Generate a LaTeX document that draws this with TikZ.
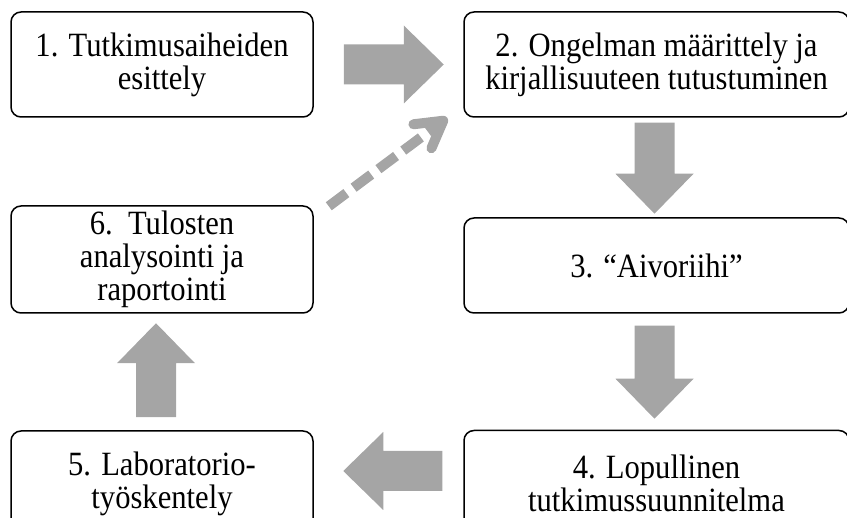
\documentclass[tikz,border=0pt]{standalone}
\usepackage{fontspec}
\setmainfont[FakeStretch=0.9]{Liberation Serif}
\usetikzlibrary{arrows.meta,calc}
\definecolor{arrowgray}{HTML}{A5A5A5}
\tikzset{
  stepbox/.style={draw, line width=1.5pt, rounded corners=10pt, align=center,
    font=\fontsize{34}{33}\selectfont, inner sep=0pt},
  pics/blockarrow/.style={code={
    \fill[arrowgray] (0,-20) -- (#1-40,-20) -- (#1-40,-39) -- (#1,0)
      -- (#1-40,39) -- (#1-40,20) -- (0,20) -- cycle;}},
  dashconn/.style={arrowgray, line width=10pt, dash pattern=on 22pt off 9pt,
    -{Straight Barb[length=26pt,width=30pt,line cap=round,line join=round]}}
}

\begin{document}
\begin{tikzpicture}[x=1pt,y=-1pt]
  \useasboundingbox (0,0) rectangle (847,518);
  \node[stepbox, minimum width=302pt, minimum height=105pt] (topic) at (162,64.5)
    {1. Tutkimusaiheiden\\esittely};
  \node[stepbox, minimum width=385pt, minimum height=105pt] (problem) at (656.5,64.5)
    {2. Ongelman määrittely ja\\kirjallisuuteen tutustuminen};
  \node[stepbox, minimum width=385pt, minimum height=95pt] (brainstorm) at (656.5,265.5)
    {3. “Aivoriihi”};
  \node[stepbox, minimum width=385pt, minimum height=105pt] (plan) at (656.5,483)
    {4. Lopullinen\\tutkimussuunnitelma};
  \node[stepbox, minimum width=302pt, minimum height=105pt] (lab) at (162,483.5)
    {5. Laboratorio-\\työskentely};
  \node[stepbox, minimum width=302pt, minimum height=107pt] (report) at (162,259.5)
    {6.\ \ Tulosten\\analysointi ja\\raportointi};

  \pic at ($(topic.east)+(30,0)$) {blockarrow=100};
  \pic[rotate=-90] at ($(problem.south)+(-2,5)$) {blockarrow=91};
  \pic[rotate=-90] at ($(brainstorm.south)+(-2,12)$) {blockarrow=93};
  \pic[rotate=180] at ($(plan.west)+(-21,-12)$) {blockarrow=99};
  \pic[rotate=90] at ($(lab.north)+(-6,-13)$) {blockarrow=94};

  \draw[dashconn] ([xshift=15pt,yshift=-1pt]report.north east) -- ([xshift=-16pt]problem.south west);
\end{tikzpicture}
\end{document}
